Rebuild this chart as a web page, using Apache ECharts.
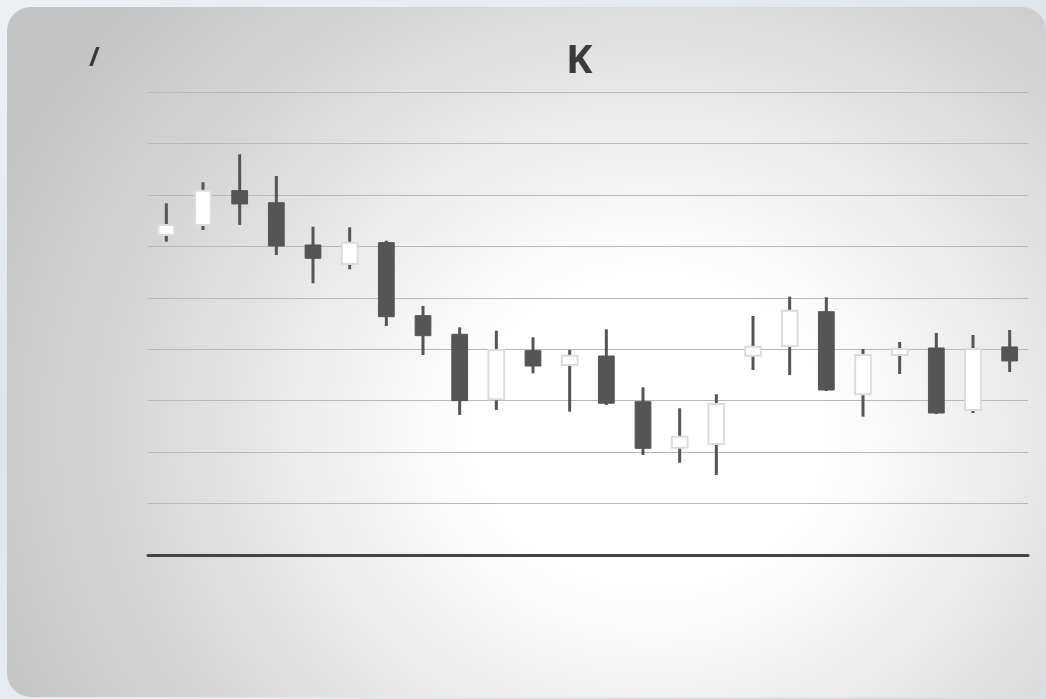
<!DOCTYPE html>
<html>
<head>
<meta charset="utf-8">
<script src="https://cdn.jsdelivr.net/npm/echarts@6/dist/echarts.min.js"></script>
<style>
  html, body { margin:0; padding:0; width:1046px; height:699px; overflow:hidden;
    background: linear-gradient(160deg, #eef1f4 0%, #dfe4e9 40%, #e9edf1 70%, #d8dde2 100%); }
  #panel { position:absolute; left:7px; top:7px; width:1039px; height:690px;
    border-radius:24px; overflow:hidden;
    background: radial-gradient(ellipse 700px 620px at 643px 423px, #ffffff 0%, #ffffff 25%, #ececec 50%, #d6d6d6 75%, #c5c5c5 100%); }
  #chart { position:absolute; left:0; top:0; width:100%; height:100%; }
</style>
</head>
<body>
<div id="panel"><div id="chart"></div></div>
<script>
// ---- data ----
const categories = ['1','2','3','4','5','6','7','8','9','10','11','12',
                    '13','14','15','16','17','18','19','20','21','22','23','24'];
const openValues  = [2411.0,2420.8,2454.1,2442.4,2401.3,2382.9,2403.6,2332.6,2314.5,2251.3,2298.6,2284.7,
                     2293.4,2249.0,2204.3,2207.9,2293.7,2303.1,2336.5,2256.2,2294.4,2301.2,2240.9,2302.2];
const closeValues = [2420.8,2454.1,2441.2,2400.3,2388.4,2403.6,2331.6,2313.2,2250.0,2299.3,2283.7,2293.7,
                     2247.5,2203.7,2215.0,2246.8,2302.5,2337.5,2260.4,2294.4,2300.2,2238.0,2300.2,2288.6];
const lowValues   = [2404.5,2415.9,2420.8,2391.6,2364.1,2377.7,2322.6,2294.4,2236.1,2240.9,2276.6,2239.3,
                     2245.8,2197.2,2189.7,2177.8,2279.8,2275.0,2259.4,2234.4,2275.9,2237.0,2238.0,2277.9];
const highValues  = [2441.9,2462.3,2489.5,2468.4,2419.1,2418.5,2405.5,2342.0,2321.3,2318.0,2311.6,2299.3,
                     2319.4,2263.0,2242.6,2256.2,2332.3,2351.1,2350.5,2300.2,2307.0,2315.8,2313.8,2318.7];
const titleText = 'K';
const yAxisName = '/';

const candleData = categories.map((c, i) => [i, openValues[i], closeValues[i], lowValues[i], highValues[i]]);

const chart = echarts.init(document.getElementById('chart'));

function renderCandle(params, api) {
  const idx = api.value(0);
  const o = api.value(1), c = api.value(2), l = api.value(3), h = api.value(4);
  const pO = api.coord([idx, o]);
  const pC = api.coord([idx, c]);
  const pL = api.coord([idx, l]);
  const pH = api.coord([idx, h]);
  const band = api.size([1, 0])[0];
  const w = band * 0.43;
  const up = c >= o;
  const top = Math.min(pO[1], pC[1]);
  const hgt = Math.max(Math.abs(pO[1] - pC[1]), 1);
  return {
    type: 'group',
    children: [
      { type: 'line', shape: { x1: pH[0], y1: pH[1], x2: pL[0], y2: pL[1] },
        style: { stroke: '#555555', lineWidth: 3 } },
      { type: 'rect', shape: { x: pO[0] - w / 2, y: top, width: w, height: hgt },
        style: up ? { fill: '#ffffff', stroke: '#dcdcdc', lineWidth: 2 }
                  : { fill: '#555555', stroke: '#555555', lineWidth: 1 } }
    ]
  };
}

chart.setOption({
  animation: false,
  backgroundColor: 'transparent',
  title: {
    text: titleText,
    left: 554, top: 30,
    textStyle: { fontFamily: 'Open Sans', fontSize: 40, fontWeight: 'bold', color: '#3a3a3a' }
  },
  graphic: [{
    type: 'text', left: 82, top: 39,
    style: { text: yAxisName, fontFamily: 'Open Sans', fontSize: 26, fontWeight: 'bold', fill: '#3a3a3a' }
  }],
  grid: { left: 141, right: 18, top: 85, bottom: 142 },
  xAxis: {
    type: 'category',
    data: categories,
    boundaryGap: true,
    axisLine: { show: true, lineStyle: { color: '#444444', width: 3 } },
    axisTick: { show: false },
    axisLabel: { show: false },
    splitLine: { show: false }
  },
  yAxis: {
    type: 'value',
    min: 2100, max: 2550, interval: 50,
    axisLine: { show: false },
    axisTick: { show: false },
    axisLabel: { show: false },
    splitLine: { show: true, lineStyle: { color: '#b8b8b8', width: 1 } }
  },
  series: [{
    type: 'custom',
    renderItem: renderCandle,
    encode: { x: 0, y: [1, 2, 3, 4] },
    data: candleData,
    z: 3
  }]
});
</script>
</body>
</html>
